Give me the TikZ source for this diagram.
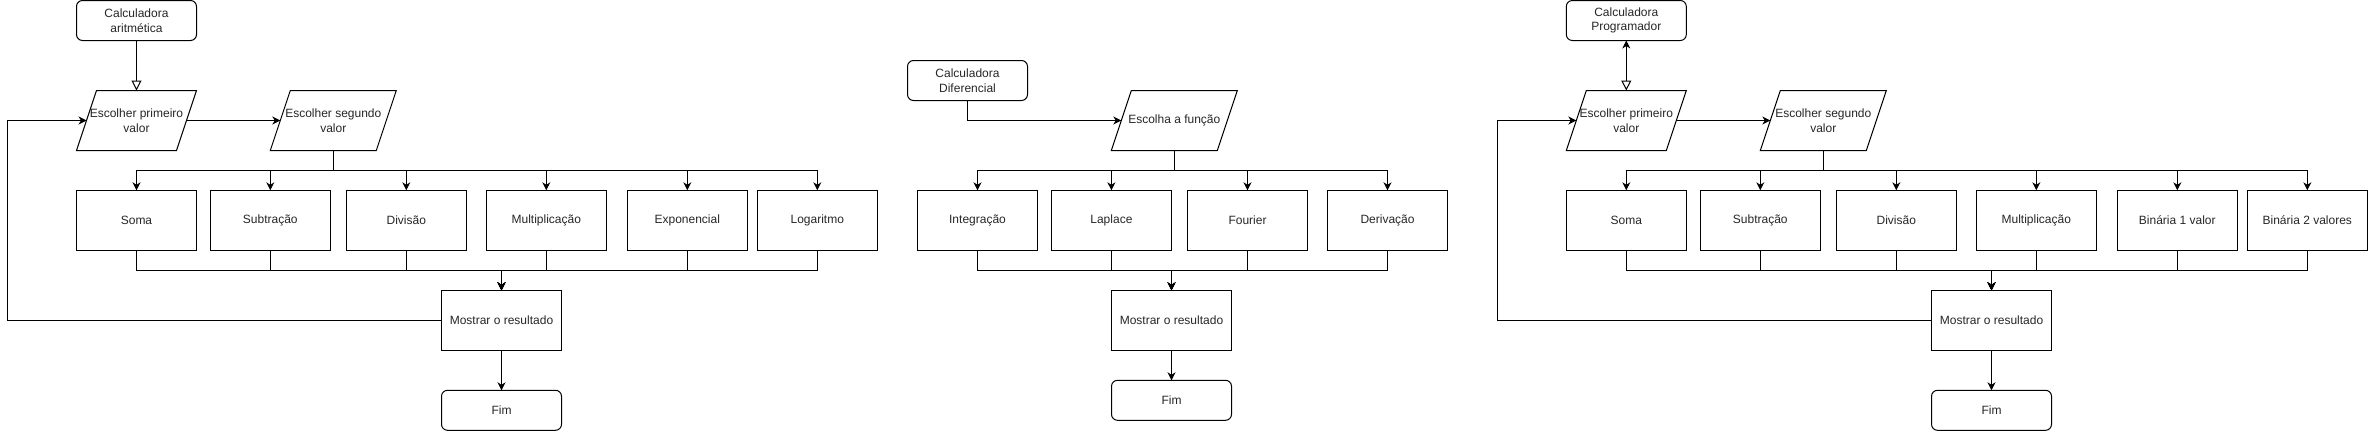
\documentclass[tikz,border=0pt]{standalone}
\usepackage{fontspec}
\setmainfont{Liberation Sans}
\usetikzlibrary{arrows.meta,calc}
\newcommand\parashape[1]{%
  \draw[ln] ([xshift=20pt]#1.north west) -- (#1.north east) -- ([xshift=-20pt]#1.south east) -- (#1.south west) -- cycle;
  \coordinate (#1L) at ([xshift=10pt]#1.west);
  \coordinate (#1R) at ([xshift=-10pt]#1.east);}
\begin{document}
\begin{tikzpicture}[x=1pt,y=-1pt,
  box/.style={draw, line width=1pt, minimum width=120pt, minimum height=60pt, inner sep=0pt, outer sep=0pt, align=center, font=\fontsize{12}{14.5}\selectfont, text=black!85},
  rbox/.style={box, rounded corners=6pt, minimum height=40pt},
  para/.style={box, draw=none},
  ln/.style={line width=1pt},
  arr/.style={line width=1pt, -{Stealth[length=8pt,width=8pt,inset=2.5pt]}},
  openarr/.style={line width=1pt, -{Triangle[open,length=10pt,width=10pt]}}]
\useasboundingbox (0,0) rectangle (2368,431);

% ---------- Part 1: Calculadora aritmetica ----------
\node[rbox] (calcA) at (136.5,20.5) {Calculadora\\aritmética};
\node[para] (primA) at (136.5,120.5) {Escolher primeiro\\valor};
\node[para, minimum width=126pt] (segA) at (333.3,120.5) {Escolher segundo\\valor};
\parashape{primA}
\parashape{segA}
\node[box] (somaA) at (136.5,220.3) {Soma};
\node[box] (subA) at (270.3,220.3) {Subtração};
\node[box] (divA) at (406.3,220.3) {Divisão};
\node[box] (mulA) at (546.3,220.3) {Multiplicação};
\node[box] (expA) at (687.3,220.3) {Exponencial};
\node[box] (logA) at (817.3,220.3) {Logaritmo};
\node[box] (mosA) at (501.5,320.3) {Mostrar o resultado};
\node[rbox] (fimA) at (501.5,410.3) {Fim};
\coordinate (loopA) at (7.3,320.3);

\draw[openarr] (calcA.south) -- (primA.north);
\draw[arr] (primAR) -- (segAL);
\foreach \b in {somaA,subA,divA,mulA,expA,logA}{
  \draw[arr] (segA.south) -- ++(0,20) -| (\b.north);
  \draw[arr] (\b.south) -- ++(0,20) -| (mosA.north);
}
\draw[arr] (mosA.west) -- (loopA) |- (primAL);
\draw[arr] (mosA.south) -- (fimA.north);

% ---------- Part 2: Calculadora Diferencial ----------
\node[rbox] (calcD) at (967.5,80.5) {Calculadora\\Diferencial};
\node[para, minimum width=126pt] (escD) at (1174.3,120.5) {Escolha a função};
\parashape{escD}
\node[box] (intD) at (977.5,220.3) {Integração};
\node[box] (lapD) at (1111.4,220.3) {Laplace};
\node[box] (fouD) at (1247.5,220.3) {Fourier};
\node[box] (derD) at (1387.5,220.3) {Derivação};
\node[box] (mosD) at (1171.5,320.3) {Mostrar o resultado};
\node[rbox] (fimD) at (1171.5,400.3) {Fim};

\draw[arr] (calcD.south) |- (escDL);
\foreach \b in {intD,lapD,fouD,derD}{
  \draw[arr] (escD.south) -- ++(0,20) -| (\b.north);
  \draw[arr] (\b.south) -- ++(0,20) -| (mosD.north);
}
\draw[arr] (mosD.south) -- (fimD.north);

% ---------- Part 3: Calculadora Programador ----------
\node[rbox] (calcP) at (1626.3,20.5) {Calculadora\\Programador};
\node[para] (primP) at (1626.3,120.5) {Escolher primeiro\\valor};
\node[para, minimum width=126pt] (segP) at (1823.3,120.5) {Escolher segundo\\valor};
\parashape{primP}
\parashape{segP}
\node[box] (somaP) at (1626.3,220.3) {Soma};
\node[box] (subP) at (1760.3,220.3) {Subtração};
\node[box] (divP) at (1896.3,220.3) {Divisão};
\node[box] (mulP) at (2036.3,220.3) {Multiplicação};
\node[box] (bin1P) at (2177.3,220.3) {Binária 1 valor};
\node[box] (bin2P) at (2307.3,220.3) {Binária 2 valores};
\node[box] (mosP) at (1991.5,320.3) {Mostrar o resultado};
\node[rbox] (fimP) at (1991.5,410.3) {Fim};
\coordinate (loopP) at (1497.3,320.3);

\draw[line width=1pt, {Stealth[length=8pt,width=8pt,inset=2.5pt]}-{Triangle[open,length=10pt,width=10pt]}] (calcP.south) -- (primP.north);
\draw[arr] (primPR) -- (segPL);
\foreach \b in {somaP,subP,divP,mulP,bin1P,bin2P}{
  \draw[arr] (segP.south) -- ++(0,20) -| (\b.north);
  \draw[arr] (\b.south) -- ++(0,20) -| (mosP.north);
}
\draw[arr] (mosP.west) -- (loopP) |- (primPL);
\draw[arr] (mosP.south) -- (fimP.north);
\end{tikzpicture}
\end{document}
